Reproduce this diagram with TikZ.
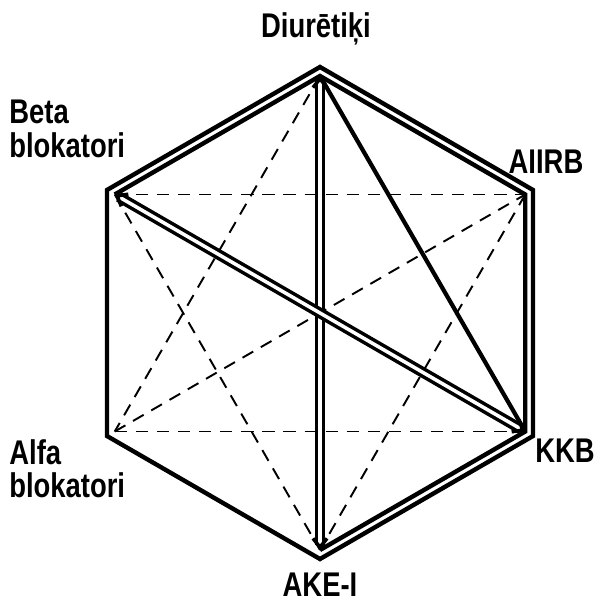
\documentclass[tikz,border=0pt]{standalone}
\usepackage{fontspec}
\setmainfont{Liberation Sans}[FakeStretch=0.8]
\usetikzlibrary{arrows.meta}
\tikzset{
  rim/.style={line width=2.5pt, line join=miter},
  pair/.style={double, line width=2pt, double distance=2pt,
    {Straight Barb[length=5pt,width=8pt]}-{Straight Barb[length=5pt,width=8pt]}},
  tie/.style={line width=2.4pt},
  weak/.style={line width=1.1pt, dash pattern=on 7pt off 5pt},
  lbl/.style={font=\bfseries\fontsize{19.5}{19}\selectfont, inner sep=0pt}
}

\begin{document}
\begin{tikzpicture}[x=0.02cm, y=0.02cm]
  \useasboundingbox (-320,-295) rectangle (280,313);
  % corners of the hexagon: outer rim and inner track
  \foreach \n/\a in {D/90, A/30, K/-30, E/-90, L/-150, B/150} {
    \coordinate (o\n) at (\a:246);
    \coordinate (i\n) at (\a:237);
  }
  \draw[rim] (oD) -- (oA) -- (oK) -- (oE) -- (oL) -- (oB) -- cycle;
  \draw[rim] (iB) -- (iD) -- (iA) -- (iK) -- (iE);

  % dashed combinations
  \draw[weak] (iB) -- (iA);
  \draw[weak] (iL) -- (iK);
  \draw[weak] (iD) -- (iL);
  \draw[weak] (iB) -- (iE);
  \draw[weak] (iA) -- (iE);
  \draw[weak] (iL) -- (iA);

  % solid and double combinations
  \draw[tie] (iD) -- (iK);
  \draw[pair] (iD) -- (iE);
  \draw[pair] (iB) -- (iK);

  % labels
  \node[lbl, anchor=base] (lD) at (-4,275) {Diurētiķi};
  \node[lbl, anchor=base] (lA) at (226,139) {AIIRB};
  \node[lbl, anchor=base] (lK) at (245,-149) {KKB};
  \node[lbl, anchor=base] (lE) at (0,-283) {AKE-I};
  \node[lbl, anchor=north west, align=left] (lB) at (-311,213) {Beta\\blokatori};
  \node[lbl, anchor=north west, align=left] (lL) at (-311,-126) {Alfa\\blokatori};
\end{tikzpicture}
\end{document}
